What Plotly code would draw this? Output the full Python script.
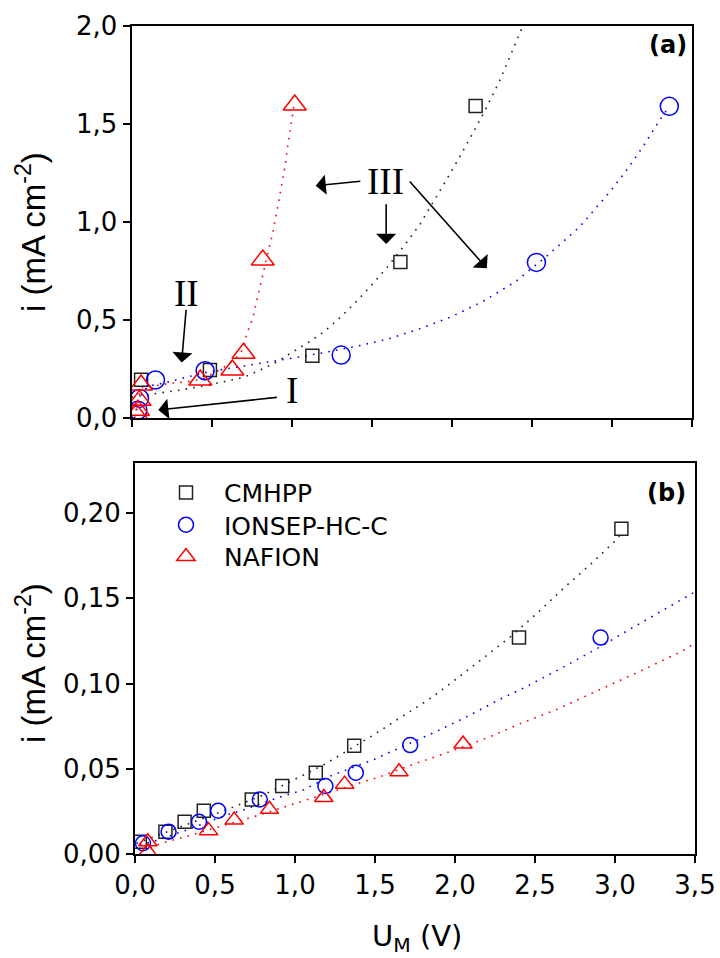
import plotly.graph_objects as go

# ---------------- data: panel (a) ----------------
a_cmhpp_x = [0.06, 0.49, 1.13, 1.68, 2.15]
a_cmhpp_y = [0.195, 0.245, 0.318, 0.796, 1.592]
a_ionsep_x = [0.04, 0.05, 0.15, 0.46, 1.31, 2.53, 3.36]
a_ionsep_y = [0.04, 0.10, 0.194, 0.241, 0.321, 0.794, 1.59]
a_nafion_x = [0.03, 0.04, 0.05, 0.06, 0.43, 0.63, 0.70, 0.82, 1.02]
a_nafion_y = [0.02, 0.04, 0.09, 0.168, 0.194, 0.245, 0.33, 0.806, 1.597]

a_fit_cmhpp_x = [0.0, 0.1, 0.2, 0.3, 0.45, 0.6, 0.7, 0.8, 0.9, 1.0, 1.1, 1.2, 1.3, 1.4, 1.5,
                 1.6, 1.7, 1.8, 1.9, 2.0, 2.1, 2.2, 2.3, 2.4, 2.445]
a_fit_cmhpp_y = [0.107, 0.119, 0.129, 0.142, 0.163, 0.19, 0.207, 0.243, 0.283, 0.333, 0.383, 0.438,
                 0.51, 0.59, 0.678, 0.772, 0.875, 0.985, 1.12, 1.26, 1.405, 1.555, 1.72, 1.91, 2.0]
a_fit_ionsep_x = [0.03, 0.05, 0.08, 0.12, 0.2, 0.3, 0.45, 0.6, 0.8, 1.0, 1.2, 1.4, 1.6, 1.8, 2.0,
                  2.2, 2.4, 2.6, 2.8, 3.0, 3.1, 3.2, 3.3, 3.36]
a_fit_ionsep_y = [0.04, 0.1, 0.145, 0.165, 0.178, 0.2, 0.23, 0.252, 0.277, 0.305, 0.333, 0.365,
                  0.402, 0.455, 0.517, 0.597, 0.696, 0.83, 0.975, 1.165, 1.272, 1.39, 1.52, 1.59]
a_fit_nafion_x = [0.02, 0.035, 0.05, 0.07, 0.14, 0.24, 0.35, 0.45, 0.51, 0.57, 0.63, 0.67, 0.70,
                  0.72, 0.74, 0.76, 0.78, 0.80, 0.83, 0.86, 0.88, 0.91, 0.94, 0.96, 0.98, 1.005, 1.016]
a_fit_nafion_y = [0.0, 0.06, 0.13, 0.158, 0.163, 0.177, 0.185, 0.2, 0.228, 0.255, 0.29, 0.32, 0.355,
                  0.43, 0.47, 0.515, 0.59, 0.655, 0.764, 0.87, 0.934, 1.061, 1.19, 1.29, 1.41, 1.55, 1.6]

# ---------------- data: panel (b) ----------------
b_cmhpp_x = [0.03, 0.19, 0.31, 0.43, 0.73, 0.92, 1.13, 1.37, 2.40, 3.04]
b_cmhpp_y = [0.0072, 0.0131, 0.0189, 0.0254, 0.032, 0.0399, 0.0477, 0.0635, 0.127, 0.1909]
b_ionsep_x = [0.05, 0.21, 0.40, 0.52, 0.78, 1.19, 1.38, 1.72, 2.91]
b_ionsep_y = [0.0063, 0.0131, 0.0189, 0.0254, 0.032, 0.0399, 0.0477, 0.0639, 0.127]
b_nafion_x = [0.08, 0.08, 0.46, 0.62, 0.84, 1.18, 1.31, 1.65, 2.05]
b_nafion_y = [0.0013, 0.0072, 0.0137, 0.0199, 0.0262, 0.0332, 0.041, 0.0482, 0.0645]

b_fit_cmhpp_x = [0.01, 0.094, 0.281, 0.594, 0.802, 0.969, 1.177, 1.49, 1.531, 1.854, 2.031,
                 2.219, 2.354, 2.521, 2.6875, 2.844, 3.0, 3.03]
b_fit_cmhpp_y = [0.0063, 0.0092, 0.016, 0.0268, 0.0346, 0.0424, 0.0522, 0.0698, 0.0723, 0.0918,
                 0.1043, 0.1182, 0.128, 0.142, 0.1567, 0.1697, 0.1836, 0.187]
b_fit_ionsep_x = [0.031, 0.146, 0.323, 0.573, 0.677, 0.896, 1.052, 1.219, 1.51, 1.552, 1.865,
                  2.073, 2.271, 2.431, 2.615, 2.765, 2.906, 3.058, 3.5]
b_fit_ionsep_y = [0.0053, 0.0082, 0.0141, 0.0229, 0.0258, 0.0332, 0.0375, 0.0457, 0.0561, 0.058,
                  0.0711, 0.0805, 0.0903, 0.0975, 0.1065, 0.1141, 0.1215, 0.13, 0.1538]
b_fit_nafion_x = [0.05, 0.135, 0.198, 0.354, 0.515, 0.729, 0.9375, 1.052, 1.406, 1.531, 1.573,
                  1.74, 1.948, 2.208, 2.41, 2.635, 2.84, 3.048, 3.15, 3.3, 3.454, 3.5]
b_fit_nafion_y = [0.002, 0.0053, 0.0072, 0.0111, 0.0157, 0.0215, 0.0277, 0.0312, 0.0418, 0.0453,
                  0.0469, 0.0526, 0.0594, 0.0684, 0.0766, 0.0848, 0.0938, 0.1026, 0.1069, 0.1137,
                  0.1206, 0.1245]

series_names = ["CMHPP", "IONSEP-HC-C", "NAFION"]
series_colors = ["#222222", "#0000FF", "#FF0000"]

x_ticks = [0, 0.5, 1.0, 1.5, 2.0, 2.5, 3.0, 3.5]
x_ticktext = ["0,0", "0,5", "1,0", "1,5", "2,0", "2,5", "3,0", "3,5"]
ya_ticks = [0, 0.5, 1.0, 1.5, 2.0]
ya_ticktext = ["0,0", "0,5", "1,0", "1,5", "2,0"]
yb_ticks = [0, 0.05, 0.10, 0.15, 0.20]
yb_ticktext = ["0,00", "0,05", "0,10", "0,15", "0,20"]

W, H = 720, 958
SANS = "DejaVu Sans"
ARIAL = "Liberation Sans"

fig = go.Figure()

DOT = "1.6px,6.2px"


def add_fit(x, y, color, xa, ya):
    fig.add_trace(go.Scatter(x=x, y=y, mode="lines", showlegend=False, hoverinfo="skip",
                             line=dict(color=color, width=1.6, dash=DOT),
                             xaxis=xa, yaxis=ya))


def add_pts(x, y, name, symbol, color, size, xa, ya, legend=None):
    kw = dict(showlegend=False)
    if legend:
        kw = dict(showlegend=True, legend=legend)
    fig.add_trace(go.Scatter(x=x, y=y, mode="markers", name=name,
                             marker=dict(symbol=symbol, size=size, color=color,
                                         line=dict(color=color, width=1.5)),
                             xaxis=xa, yaxis=ya, **kw))


# panel (a)
add_fit(a_fit_cmhpp_x, a_fit_cmhpp_y, series_colors[0], "x", "y")
add_fit(a_fit_ionsep_x, a_fit_ionsep_y, series_colors[1], "x", "y")
add_fit(a_fit_nafion_x, a_fit_nafion_y, series_colors[2], "x", "y")
add_pts(a_cmhpp_x, a_cmhpp_y, series_names[0], "square-open", series_colors[0], 13, "x", "y")
add_pts(a_ionsep_x, a_ionsep_y, series_names[1], "circle-open", series_colors[1], 18, "x", "y")
add_pts(a_nafion_x, a_nafion_y, series_names[2], "triangle-up-open", series_colors[2], 20, "x", "y")

# panel (b)
add_fit(b_fit_cmhpp_x, b_fit_cmhpp_y, series_colors[0], "x2", "y2")
add_fit(b_fit_ionsep_x, b_fit_ionsep_y, series_colors[1], "x2", "y2")
add_fit(b_fit_nafion_x, b_fit_nafion_y, series_colors[2], "x2", "y2")
add_pts(b_cmhpp_x, b_cmhpp_y, series_names[0], "square-open", series_colors[0], 13, "x2", "y2", "legend")
add_pts(b_ionsep_x, b_ionsep_y, series_names[1], "circle-open", series_colors[1], 15, "x2", "y2", "legend2")
add_pts(b_nafion_x, b_nafion_y, series_names[2], "triangle-up-open", series_colors[2], 16, "x2", "y2", "legend3")

axis_common = dict(showline=True, linecolor="black", linewidth=1.8, mirror=True,
                   ticks="outside", ticklen=7, tickwidth=1.8, tickcolor="black",
                   showgrid=False, zeroline=False, automargin=False,
                   tickfont=dict(family=SANS, size=26, color="black"))


def leg(center_y):
    return dict(x=148 / W, y=1 - (center_y - 23) / H, xanchor="left", yanchor="top",
                bgcolor="rgba(0,0,0,0)", itemwidth=66,
                font=dict(family=SANS, size=25, color="black"))


fig.update_layout(
    width=W, height=H, margin=dict(l=0, r=0, t=0, b=0, autoexpand=False),
    paper_bgcolor="white", plot_bgcolor="white",
    xaxis=dict(domain=[131.5 / W, 691.7 / W], range=[0, 3.5], anchor="y",
               tickvals=x_ticks, showticklabels=False, **axis_common),
    yaxis=dict(domain=[1 - 418 / H, 1 - 26 / H], range=[0, 2.0], anchor="x",
               tickvals=ya_ticks, ticktext=ya_ticktext, **axis_common),
    xaxis2=dict(domain=[135 / W, 695 / W], range=[0, 3.5], anchor="y2",
                tickvals=x_ticks, ticktext=x_ticktext, **axis_common),
    yaxis2=dict(domain=[1 - 854 / H, 1 - 462.7 / H], range=[0, 0.2296], anchor="x2",
                tickvals=yb_ticks, ticktext=yb_ticktext, **axis_common),
    legend=leg(492.7),
    legend2=leg(525),
    legend3=leg(556.7),
    showlegend=True,
)

ann = []
C = dict(xanchor="center", yanchor="middle", showarrow=False)
# panel labels
ann.append(dict(text="<b>(a)</b>", x=668 / W, y=1 - 45 / H, xref="paper", yref="paper",
                font=dict(family=SANS, size=24, color="black"), **C))
ann.append(dict(text="<b>(b)</b>", x=666 / W, y=1 - 493 / H, xref="paper", yref="paper",
                font=dict(family=SANS, size=24, color="black"), **C))
# axis titles
ann.append(dict(text="i (mA cm<sup>-2</sup>)", x=31 / W, y=1 - 232 / H, xref="paper", yref="paper",
                textangle=-90, font=dict(family=ARIAL, size=33, color="black"), **C))
ann.append(dict(text="i (mA cm<sup>-2</sup>)", x=31 / W, y=1 - 663 / H, xref="paper", yref="paper",
                textangle=-90, font=dict(family=ARIAL, size=33, color="black"), **C))
ann.append(dict(text="U<sub>M</sub> (V)", x=417 / W, y=1 - 938 / H, xref="paper", yref="paper",
                font=dict(family=SANS, size=29, color="black"), **C))

# roman numeral labels
SERIF = "Liberation Serif"
for txt, x, y in [("III", 1.584, 1.206), ("II", 0.345, 0.636), ("I", 1.001, 0.139)]:
    ann.append(dict(text=txt, x=x, y=y, xref="x", yref="y",
                    font=dict(family=SERIF, size=37, color="black"), **C))

# arrows (tail -> tip)
arrows = [
    ((1.439, 1.209), (1.151, 1.185)),
    ((1.591, 1.098), (1.591, 0.888)),
    ((1.73, 1.214), (2.22, 0.764)),
    ((0.342, 0.56), (0.313, 0.283)),
    ((0.9175, 0.106), (0.1675, 0.041)),
]
for (tx, ty), (hx, hy) in arrows:
    ann.append(dict(text="", x=hx, y=hy, ax=tx, ay=ty, xref="x", yref="y", axref="x", ayref="y",
                    showarrow=True, arrowhead=1, arrowsize=2.1, arrowwidth=1.6, arrowcolor="black",
                    standoff=0, startstandoff=0))

fig.update_layout(annotations=ann)
fig.write_html("out.html")
